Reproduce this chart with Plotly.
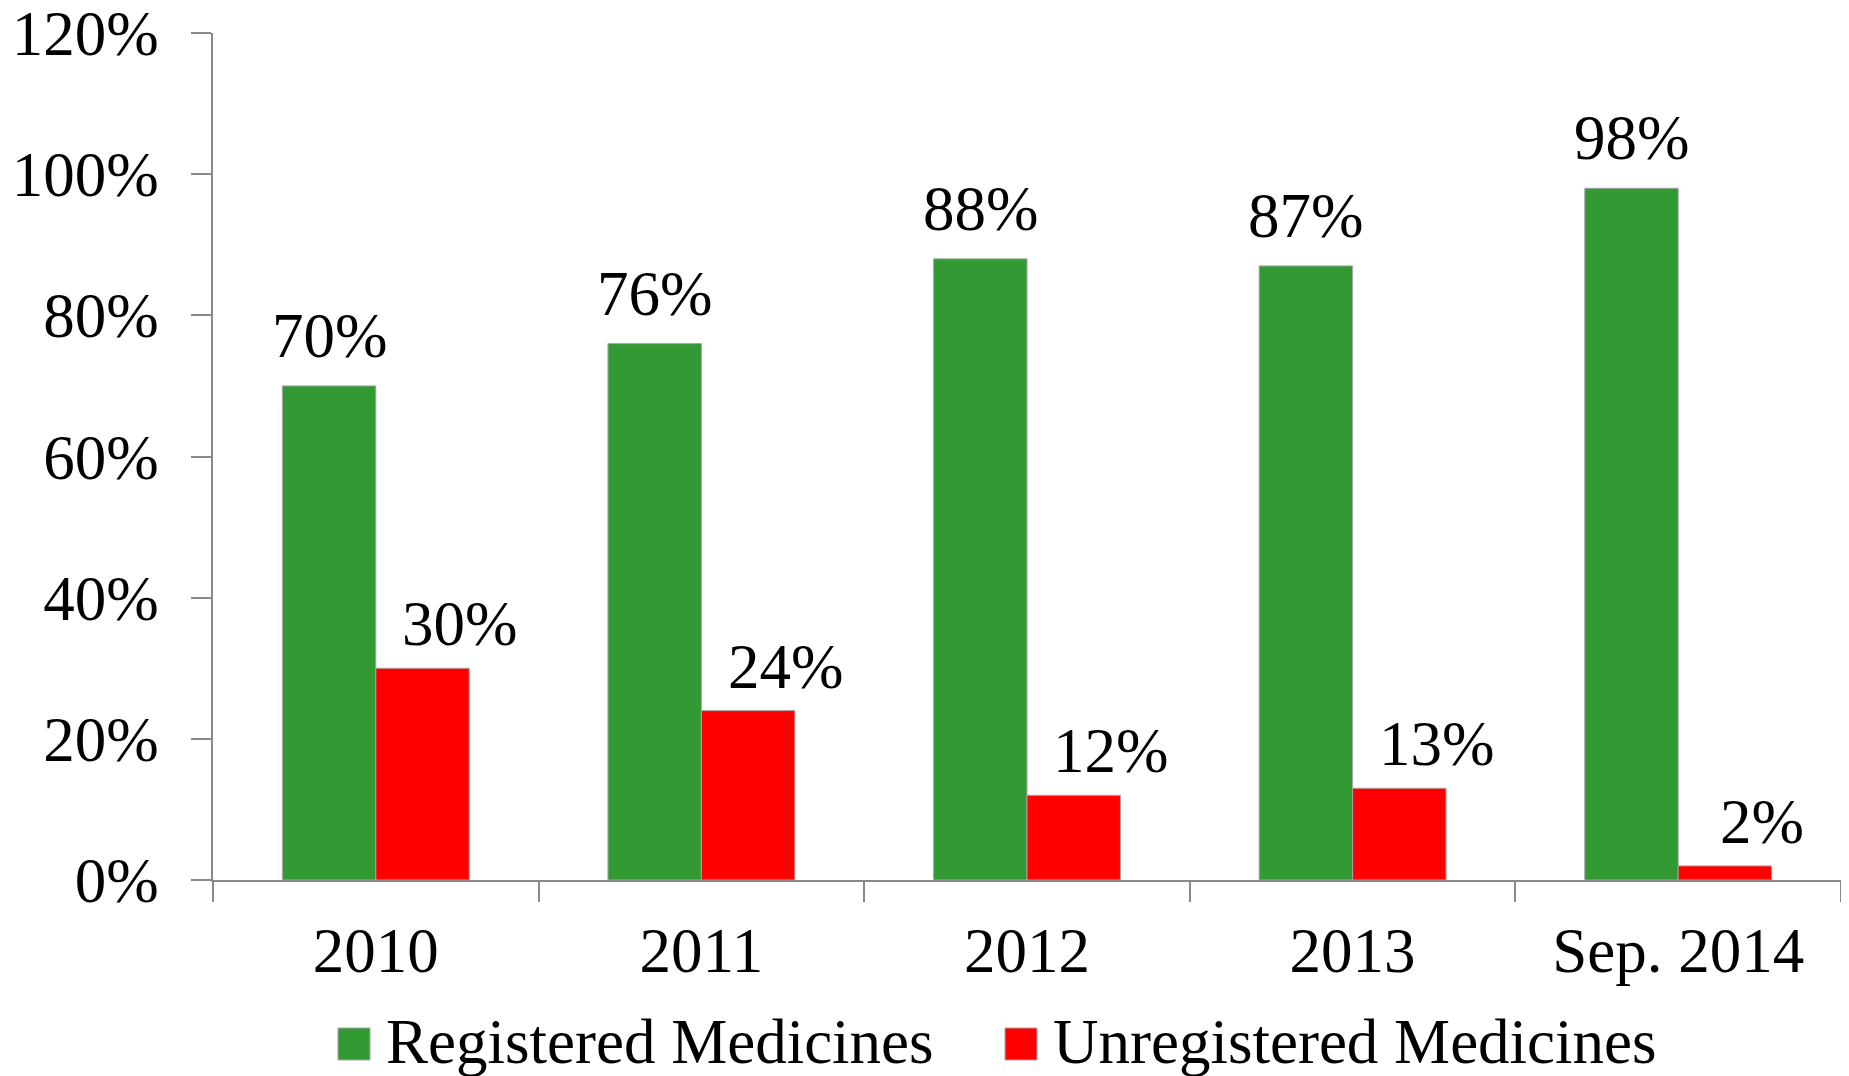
import plotly.graph_objects as go

categories = ["2010", "2011", "2012", "2013", "Sep. 2014"]
registered = [70, 76, 88, 87, 98]
unregistered = [30, 24, 12, 13, 2]
y_ticks = [0, 20, 40, 60, 80, 100, 120]
series_names = ["Registered Medicines", "Unregistered Medicines"]

GREEN = "#339933"
RED = "#FF0000"
AXIS = "#898989"
EDGE = "#a6a6a6"
FONT = "Liberation Serif"
FS = 63

# the page body adds an 8px offset, so the figure is 8px smaller than the window
OFF = 8
W, H = 1849 - OFF, 1076 - OFF
ML, MR, MT, MB = 213 - OFF, 8, 33 - OFF, 196
PW, PH = W - ML - MR, H - MT - MB
BARGAP = 0.426

fig = go.Figure()
fig.add_trace(go.Bar(
    x=categories, y=registered, name=series_names[0],
    marker=dict(color=GREEN, line=dict(color=EDGE, width=1)),
    showlegend=False,
))
fig.add_trace(go.Bar(
    x=categories, y=unregistered, name=series_names[1],
    marker=dict(color=RED, line=dict(color=EDGE, width=1)),
    showlegend=False,
))

# value labels (annotations on the data axes)
bar_frac = (1 - BARGAP) / 2
for vals, side, xs, ys in [(registered, -1, 0, 13), (unregistered, 1, 37, 7)]:
    for i, v in enumerate(vals):
        fig.add_annotation(
            x=i + side * bar_frac / 2, y=v, xref="x", yref="y",
            text=f"{v}%", showarrow=False, yanchor="bottom",
            xshift=xs, yshift=ys,
            font=dict(family=FONT, size=FS, color="black"),
        )

# legend (drawn in paper coordinates; pixel layout of the window converted)
def px_x(p):
    return (p - OFF - ML) / PW

def px_y(p):
    return (H - MB - (p - OFF)) / PH

legend_items = [(series_names[0], GREEN, 338), (series_names[1], RED, 1005)]
for name, col, x0 in legend_items:
    fig.add_shape(type="rect", xref="paper", yref="paper",
                  x0=px_x(x0), x1=px_x(x0 + 32), y0=px_y(1060), y1=px_y(1028),
                  fillcolor=col, line=dict(color=EDGE, width=1))
    fig.add_annotation(xref="paper", yref="paper", x=px_x(x0 + 46), y=px_y(1042),
                       xanchor="left", yanchor="middle", showarrow=False,
                       text=name, font=dict(family=FONT, size=FS, color="black"))

fig.update_layout(
    width=W, height=H,
    margin=dict(l=ML, r=MR, t=MT, b=MB),
    paper_bgcolor="white", plot_bgcolor="white",
    barmode="group", bargap=BARGAP, bargroupgap=0,
    font=dict(family=FONT, size=FS, color="black"),
    showlegend=False,
    xaxis=dict(type="category", range=[-0.5, 4.5], showline=True, linecolor=AXIS,
               linewidth=1.5, ticks="outside", tickson="boundaries", ticklen=20,
               tickcolor=AXIS, tickwidth=1.5, showgrid=False, zeroline=False,
               ticklabelstandoff=15, automargin=False,
               tickfont=dict(family=FONT, size=FS)),
    yaxis=dict(range=[0, 120], tickmode="array", tickvals=y_ticks,
               ticktext=[f"{v}%" for v in y_ticks], showline=True,
               linecolor=AXIS, linewidth=1.5, ticks="outside", ticklen=20,
               tickcolor=AXIS, tickwidth=1.5, showgrid=False, zeroline=False,
               ticklabelstandoff=20, automargin=False, ticklabeloverflow="allow",
               tickfont=dict(family=FONT, size=FS)),
)

fig.write_html("out.html")
